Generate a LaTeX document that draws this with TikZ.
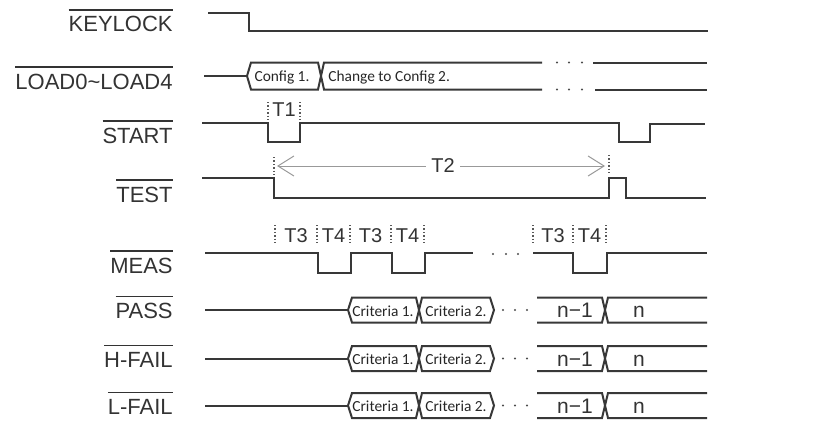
\documentclass[tikz,border=0pt]{standalone}
\usepackage{fontspec}
\usetikzlibrary{arrows.meta}
\newfontfamily\sigfont{Liberation Sans}
\newfontfamily\busfont{Carlito}
\newcommand\ovsig[1]{\vbox{\hrule height 0.6pt\kern 3pt\hbox{#1}}}

\begin{document}
\begin{tikzpicture}[
  x=0.5pt, y=-0.5pt,
  sig/.style={line width=1pt, draw=black!78},
  guide/.style={densely dotted, line width=0.7pt, draw=black!65},
  signame/.style={font=\sigfont\fontsize{11}{13}\selectfont, text=black!80, anchor=base east, inner sep=0pt},
  tlabel/.style={font=\sigfont\fontsize{10}{12}\selectfont, text=black!80, inner sep=1pt},
  level/.style={font=\sigfont\fontsize{10.5}{12}\selectfont, text=black!80, anchor=base, inner sep=0pt},
  bustext/.style={font=\busfont\fontsize{7.7}{9}\selectfont, text=black!85, anchor=base, inner sep=0pt},
  spanarrow/.style={draw=black!40, line width=0.5pt, {Straight Barb[length=8pt,width=10pt]}-{Straight Barb[length=8pt,width=10pt]}},
  dot/.style={fill=black!70}
]
\useasboundingbox (0,0) rectangle (822,428);

% signal names
\node[signame] (keylock) at (173,32) {\ovsig{KEYLOCK}};
\node[signame] (load) at (173,89) {\ovsig{LOAD0\textasciitilde LOAD4}};
\node[signame] (start) at (173,143) {\ovsig{START}};
\node[signame] (test) at (173,202) {\ovsig{TEST}};
\node[signame] (meas) at (173,273) {\ovsig{MEAS}};

% KEYLOCK
\draw[sig] (208,13) -- (249,13) -- (249,31) -- (708,31);

% LOAD0~LOAD4 bus
\draw[sig] (204,76) -- (247,76);
\draw[sig] (542,62.5) -- (324,62.5) -- (318,89.5) -- (251,89.5) -- (247,76)
  -- (251,62.5) -- (318,62.5) -- (324,89.5) -- (542,89.5);
\node[bustext] (cfg1) at (282,81.5) {Config 1.};
\node[bustext, anchor=base west] (cfg2) at (328,81.5) {Change to Config 2.};
\foreach \d in {557,569,582} {
  \fill[dot] (\d,62.5) circle (0.6pt);
  \fill[dot] (\d,89.5) circle (0.6pt);
}
\draw[sig] (593,62.5) -- (707,62.5);
\draw[sig] (595,89.5) -- (707,89.5);

% START
\draw[sig] (202,123) -- (268,123) -- (268,142) -- (300,142) -- (300,123)
  -- (619,123) -- (619,142) -- (650,142) -- (650,124) -- (705,124);
\draw[guide] (268,102) -- (268,122);
\draw[guide] (300,102) -- (300,122);
\node[tlabel] (t1) at (284,110) {T1};

% TEST
\draw[sig] (202,178) -- (274,178) -- (274,198) -- (609,198) -- (609,178)
  -- (626,178) -- (626,198) -- (706,198);
\draw[guide] (274,157) -- (274,177);
\draw[guide] (609,155) -- (609,175);
\coordinate (t2a) at (277,166);
\coordinate (t2b) at (605,166);
\draw[spanarrow] (t2a) -- (t2b);
\node[tlabel, fill=white, inner xsep=2.5pt] (t2) at (443,166) {T2};

% MEAS
\draw[sig] (205,253) -- (318,253) -- (318,273) -- (351,273) -- (351,253)
  -- (392,253) -- (392,273) -- (425,273) -- (425,253) -- (473,253);
\foreach \d in {493,506,518}
  \fill[dot] (\d,254) circle (0.6pt);
\draw[sig] (533,253) -- (573,253) -- (573,273) -- (607,273) -- (607,253) -- (707,253);
\foreach \g in {275,317,350,391,424,533,573,606}
  \draw[guide] (\g,225) -- (\g,245);
\foreach \t/\x in {3/296,4/333.5,3/370.5,4/407.5,3/553,4/589.5}
  \node[tlabel] at (\x,236) {T\t};

% PASS, H-FAIL, L-FAIL buses
\foreach \id/\lab/\c in {pass/PASS/310,hfail/H-FAIL/358.5,lfail/L-FAIL/405.5} {
  \node[signame] (\id) at (173,\c+8.5) {\ovsig{\lab}};
  \draw[sig] (205,\c) -- (348,\c);
  \draw[sig] (348,\c) -- (352,\c-12.5) -- (416,\c-12.5) -- (422,\c+12.5)
    -- (490,\c+12.5) -- (494,\c) -- (490,\c-12.5) -- (422,\c-12.5)
    -- (416,\c+12.5) -- (352,\c+12.5) -- cycle;
  \node[bustext] (\id-c1) at (383,\c+6) {Criteria 1.};
  \node[bustext] (\id-c2) at (456,\c+6) {Criteria 2.};
  \foreach \d in {503,515,527}
    \fill[dot] (\d,\c) circle (0.6pt);
  \draw[sig] (537,\c-12.5) -- (602,\c-12.5) -- (608,\c+12.5) -- (707,\c+12.5);
  \draw[sig] (537,\c+12.5) -- (602,\c+12.5) -- (608,\c-12.5) -- (707,\c-12.5);
  \node[level] (\id-n1) at (575,\c+7.5) {n−1};
  \node[level] (\id-n) at (639,\c+7.5) {n};
}
\end{tikzpicture}
\end{document}
